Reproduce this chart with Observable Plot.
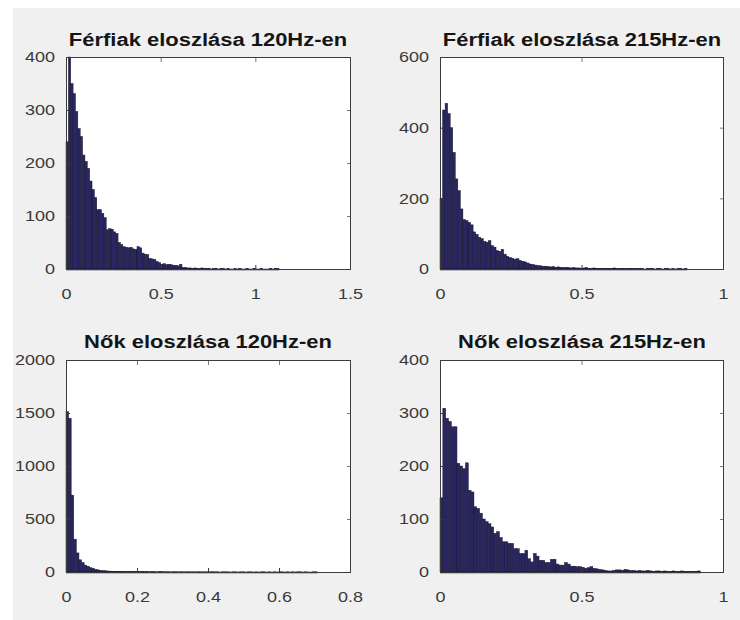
<!DOCTYPE html>
<html>
<head>
<meta charset="utf-8">
<script src="https://cdn.jsdelivr.net/npm/d3@7"></script>
<script src="https://cdn.jsdelivr.net/npm/@observablehq/plot@0.6"></script>
<style>
html, body { margin: 0; padding: 0; background: #ffffff; }
#fig { position: relative; width: 740px; height: 620px; overflow: hidden; }
#bg { position: absolute; left: 13px; top: 8px; right: 0; bottom: 0; background: #f0f0f0; }
.panel { position: absolute; }
.panel svg { overflow: visible; }
.title { position: absolute; font: bold 18px "Liberation Sans", Arial, sans-serif; color: #151515;
  white-space: nowrap; transform: translate(-50%, -50%) scaleX(1.22); line-height: 1; }
</style>
</head>
<body>
<div id="fig"><div id="bg"></div></div>
<script>
// ---- data ----
const titles = [
  "Férfiak eloszlása 120Hz-en",
  "Férfiak eloszlása 215Hz-en",
  "Nők eloszlása 120Hz-en",
  "Nők eloszlása 215Hz-en"
];
const binWidths = [0.0125, 0.009, 0.0073, 0.01];

const maleLow = [240,400,350,331,297,265,250,215,203,190,166,150,135,112,112,105,97,74,76,75,
  70,67,50,46,42,41,40,41,38,37,42,40,30,28,27,20,19,18,14,12,
  9,10,8,9,8,7,7,6,9,3,3,2,2,1,2,1,1,2,1,1,
  1,0,1,1,0,1,1,0,1,0,0,1,0,1,0,0,1,0,0,1,
  0,0,1,0,0,0,1,0,1,1];

const maleHigh = [200,450,469,440,400,330,255,222,170,140,137,132,125,105,98,90,86,78,76,80,
  66,62,52,50,56,42,36,33,30,28,29,24,22,20,17,14,13,11,10,9,
  8,8,7,6,7,5,6,5,4,5,4,3,4,3,3,2,3,4,2,2,
  3,2,2,1,2,2,1,2,3,1,1,2,1,1,2,1,1,1,2,1,
  0,1,1,1,0,1,1,0,1,1,0,1,0,1,1,0,1];

const femaleLow = [1512,1450,725,310,180,115,90,65,55,40,35,25,20,15,12,11,9,8,7,
  6,6,5,5,4,5,4,4,3,4,3,3,3,2,3,2,2,3,2,2,2,1,2,2,1,2,1,1,2,1,1,1,2,1,1,1,
  1,2,1,1,0,1,1,1,0,1,1,0,1,1,0,1,1,0,1,0,1,1,0,1,0,1,0,1,1,0,1,0,1,0,1,1,0,1,0,0,1,1];

const femaleHigh = [140,309,290,284,274,274,205,200,195,206,154,151,123,120,111,100,95,91,85,73,
  76,65,57,57,54,54,44,44,35,35,41,25,19,35,30,22,22,18,18,24,
  24,15,13,13,18,15,11,11,10,10,9,7,8,10,7,6,5,4,3,2,
  2,3,4,4,3,5,4,3,3,2,3,2,2,3,2,1,2,2,1,2,
  1,1,2,1,1,2,1,1,1,1,1,2];

const series = [maleLow, maleHigh, femaleLow, femaleHigh];
const xTicks = [[0, 0.5, 1, 1.5], [0, 0.5, 1], [0, 0.2, 0.4, 0.6, 0.8], [0, 0.5, 1]];
const yTicks = [[0, 100, 200, 300, 400], [0, 200, 400, 600], [0, 500, 1000, 1500, 2000], [0, 100, 200, 300, 400]];

// ---- layout / style ----
const layout = [
  {left: 0,   top: 0,   w: 370, h: 310, mL: 66, mR: 20, mT: 57, mB: 41, tx: 208, ty: 40},
  {left: 370, top: 0,   w: 370, h: 310, mL: 70, mR: 17, mT: 57, mB: 41, tx: 582, ty: 40},
  {left: 0,   top: 310, w: 370, h: 310, mL: 66, mR: 20, mT: 50, mB: 48, tx: 208, ty: 342},
  {left: 370, top: 310, w: 370, h: 310, mL: 70, mR: 17, mT: 50, mB: 48, tx: 582, ty: 342}
];
const barFill = "#2a2760";
const barEdge = "#15132e";
const axisColor = "#3a3a3a";
const fmt = d => String(d);

const fig = document.getElementById("fig");

series.forEach((counts, i) => {
  const L = layout[i];
  const w = binWidths[i];
  const bins = counts.map((c, k) => ({x1: k * w, x2: (k + 1) * w, count: c}));
  const xd = [xTicks[i][0], xTicks[i][xTicks[i].length - 1]];
  const yd = [yTicks[i][0], yTicks[i][yTicks[i].length - 1]];
  const svg = Plot.plot({
    width: L.w, height: L.h,
    marginLeft: L.mL, marginRight: L.mR, marginTop: L.mT, marginBottom: L.mB,
    style: {background: "transparent", fontFamily: '"Liberation Sans", Arial, sans-serif', fontSize: "15px", color: axisColor},
    x: {domain: xd, label: null},
    y: {domain: yd, label: null},
    marks: [
      Plot.frame({fill: "white", stroke: null}),
      Plot.rectY(bins, {x1: "x1", x2: "x2", y: "count", fill: barFill, stroke: barEdge, strokeWidth: 0.45}),
      Plot.ruleY([0], {x1: 0, x2: bins.length * w, stroke: barEdge, strokeWidth: 1.5}),
      Plot.axisX(xTicks[i], {anchor: "bottom", tickSize: -4, tickPadding: 23, tickFormat: fmt, label: null, color: axisColor}),
      Plot.axisX(xTicks[i], {anchor: "top", tickSize: -4, tickFormat: () => "", label: null, color: "#777"}),
      Plot.axisY(yTicks[i], {anchor: "left", tickSize: -4, tickPadding: 15.5, tickFormat: fmt, label: null, color: axisColor}),
      Plot.axisY(yTicks[i], {anchor: "right", tickSize: -4, tickFormat: () => "", label: null, color: "#777"}),
      Plot.frame({stroke: "#3c3c3c", strokeWidth: 1})
    ]
  });
  // horizontally widen tick labels (the reference is stretched): scale about each label's anchor point
  svg.querySelectorAll('g[aria-label="x-axis tick label"] text, g[aria-label="y-axis tick label"] text').forEach(t => {
    const tr = t.getAttribute("transform");
    if (tr && /translate/.test(tr)) {
      t.setAttribute("transform", tr + " scale(1.2,1)");
    } else {
      const x = parseFloat(t.getAttribute("x"));
      if (Number.isFinite(x)) {
        t.setAttribute("x", x / 1.2);
        t.setAttribute("transform", (tr ? tr + " " : "") + "scale(1.2,1)");
      }
    }
  });
  const div = document.createElement("div");
  div.className = "panel";
  div.style.left = L.left + "px";
  div.style.top = L.top + "px";
  div.appendChild(svg);
  fig.appendChild(div);

  const t = document.createElement("div");
  t.className = "title";
  t.style.left = L.tx + "px";
  t.style.top = L.ty + "px";
  t.textContent = titles[i];
  fig.appendChild(t);
});
</script>
</body>
</html>
